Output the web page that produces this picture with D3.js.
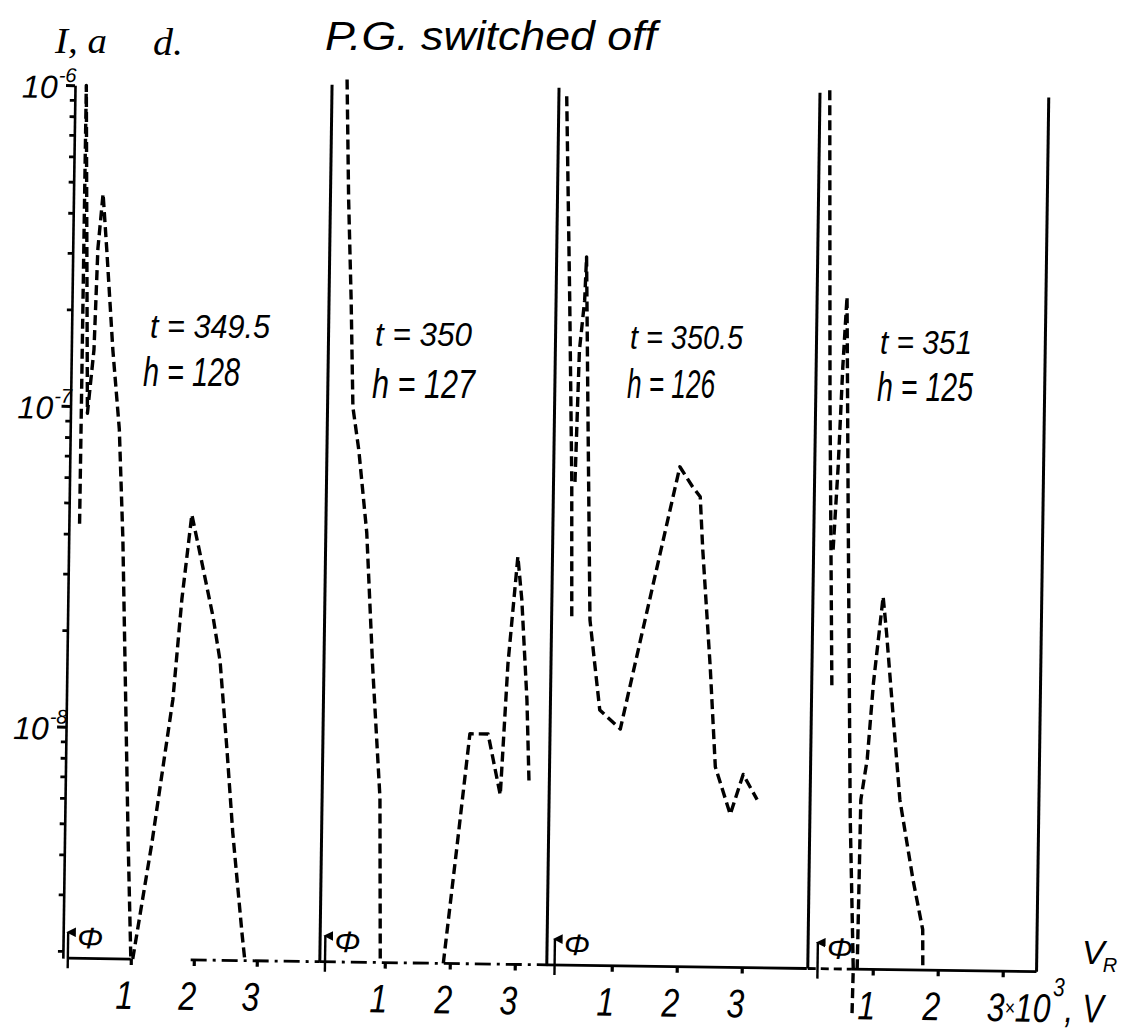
<!DOCTYPE html>
<html><head><meta charset="utf-8">
<script src="https://cdn.jsdelivr.net/npm/d3@7"></script>
<style>
html,body{margin:0;padding:0;background:#fff;}
svg{display:block;}
.hand{font-family:'Liberation Sans','DejaVu Sans',sans-serif;font-style:italic;fill:#000;}
.serif{font-family:'Liberation Serif','DejaVu Serif',serif;font-style:italic;fill:#000;}
</style></head><body>
<svg id="chart" width="1123" height="1033"></svg>
<script>
// ---------------- DATA ----------------
const FLOOR = 1.9e-9;                 // current level drawn on the zero line (A)
const tLabels = ["t = 349.5", "t = 350", "t = 350.5", "t = 351"];
const hLabels = ["h = 128", "h = 127", "h = 126", "h = 125"];
const phiV = [0.0, 0.08, 0.12, 0.15];  // position of the Φ arrow (kV)
const xTickValues = [1, 2, 3];
const xTickLabels = ["1", "2", "3"];
const yMajorTicks = [1e-6, 1e-7, 1e-8];
const yMajorExp = ["-6", "-7", "-8"];
const edgeV = [[], [0], [0], [0, 3.52]];                 // solid vertical lines (kV)
const edgeTop = [[], [1.03e-6], [1.03e-6], [1.02e-6, 1.01e-6]];

// panel 1 (t = 349.5)
const p1a_V = [0.09, 0.10, 0.19, 0.28, 0.32, 0.39, 0.46, 0.58, 0.70, 0.78, 0.93, 1.00];
const p1a_I = [4.3e-8, 1.0e-6, 9.5e-8, 1.5e-7, 3.1e-7, 4.6e-7, 3.1e-7, 1.5e-7, 8.5e-8, 3.9e-8, 4.5e-9, 1.9e-9];
const p1b_V = [1.03, 1.31, 1.61, 1.73, 1.87, 2.01, 2.23, 2.35, 2.48, 2.59, 2.76, 2.81];
const p1b_I = [1.9e-9, 4.4e-9, 1.23e-8, 2.52e-8, 4.64e-8, 3.5e-8, 2.23e-8, 1.63e-8, 8.6e-9, 4.75e-9, 2.3e-9, 1.9e-9];
// panel 2 (t = 350)
const p2a_V = [0.23, 0.28, 0.34, 0.39, 0.49, 0.63, 0.75, 0.89, 0.93];
const p2a_I = [1.07e-6, 4.5e-7, 2.2e-7, 1.02e-7, 7.5e-8, 4.15e-8, 1.58e-8, 6.2e-9, 1.9e-9];
const p2b_V = [1.90, 2.09, 2.26, 2.54, 2.74, 2.83, 2.96, 3.03, 3.13, 3.18];
const p2b_I = [1.9e-9, 4.5e-9, 9.9e-9, 9.9e-9, 6.4e-9, 1.64e-8, 3.55e-8, 2.6e-8, 1.27e-8, 7.0e-9];
// panel 3 (t = 350.5)
const p3a_V = [0.12, 0.21, 0.28, 0.31];
const p3a_I = [9.7e-7, 2.25e-7, 6.2e-8, 2.27e-8];
const p3b_V = [0.33, 0.37, 0.44, 0.46, 0.51, 0.59, 0.76, 1.08, 1.94, 2.14, 2.26, 2.31, 2.45, 2.55, 2.79, 2.98, 3.20];
const p3b_I = [6.1e-8, 1.57e-7, 2.25e-7, 3.07e-7, 1.1e-7, 2.27e-8, 1.19e-8, 1.04e-8, 6.87e-8, 5.96e-8, 5.55e-8, 3.8e-8, 1.64e-8, 8.0e-9, 5.7e-9, 7.6e-9, 6.35e-9];
// panel 4 (t = 351)
const p4a_V = [0.15, 0.22, 0.31];
const p4a_I = [1.04e-6, 1.13e-7, 1.44e-8];
const p4b_V = [0.30, 0.36, 0.41, 0.46, 0.52, 0.62, 0.70, 0.69];
const p4b_I = [3.85e-8, 7.0e-8, 1.43e-7, 2.37e-7, 5.5e-8, 5.7e-9, 1.9e-9, 1.35e-9];
const p4c_V = [0.76, 0.78, 0.87, 0.95, 1.08, 1.14, 1.26, 1.38, 1.60, 1.76, 1.77];
const p4c_I = [1.9e-9, 6.4e-9, 8.6e-9, 1.49e-8, 2.76e-8, 2.13e-8, 1.17e-8, 6.45e-9, 3.63e-9, 2.54e-9, 1.9e-9];

const series = [
  {p: 0, V: p1a_V, I: p1a_I}, {p: 0, V: p1b_V, I: p1b_I},
  {p: 1, V: p2a_V, I: p2a_I}, {p: 1, V: p2b_V, I: p2b_I},
  {p: 2, V: p3a_V, I: p3a_I}, {p: 2, V: p3b_V, I: p3b_I},
  {p: 3, V: p4a_V, I: p4a_I}, {p: 3, V: p4b_V, I: p4b_I}, {p: 3, V: p4c_V, I: p4c_I}
];

// ---------------- LAYOUT ----------------
const W = 1123, H = 1033;
const ROT = 0.8, CX = 560, CY = 520;
const panelOrigin = [74, 326, 553, 814];
const pxPerKV = [63, 65, 65, 65];
const xs = panelOrigin.map((o, i) => d3.scaleLinear().domain([0, 4]).range([o, o + 4 * pxPerKV[i]]));
const y = d3.scaleLog().domain([FLOOR, 1e-6]).range([965, 92]);
const axisX = panelOrigin[0] - 5;
const baselineSegs = [
  {p: 0, a: 0, b: 1, dash: null},
  {p: 0, a: 1.95, b: 4.0, dash: "16,6,3,6"},
  {p: 1, a: 0, b: 3.5, dash: "16,6,3,6"},
  {p: 2, a: 0, b: 4.0, dash: null},
  {p: 3, a: 0, b: 0.68, dash: "8,5"},
  {p: 3, a: 0.68, b: 3.52, dash: null}
];

const svg = d3.select("#chart");
svg.append("rect").attr("width", W).attr("height", H).attr("fill", "#fff");
const defs = svg.append("defs");
defs.append("marker").attr("id", "ah").attr("viewBox", "0 0 10 10").attr("refX", 5).attr("refY", 2)
  .attr("markerWidth", 4).attr("markerHeight", 4).attr("orient", "auto-start-reverse")
  .append("path").attr("d", "M0,10 L5,0 L10,10 Z").attr("fill", "#000");

const g = svg.append("g").attr("transform", `rotate(${ROT} ${CX} ${CY})`);
const base = y(FLOOR);

// zero lines
g.selectAll("line.base").data(baselineSegs).join("line").attr("class", "base")
  .attr("x1", d => xs[d.p](d.a)).attr("x2", d => xs[d.p](d.b))
  .attr("y1", base).attr("y2", base)
  .attr("stroke", "#000").attr("stroke-width", 2.8)
  .attr("stroke-dasharray", d => d.dash);

// solid vertical lines
edgeV.forEach((arr, p) => arr.forEach((v, k) => {
  g.append("line").attr("x1", xs[p](v)).attr("x2", xs[p](v))
    .attr("y1", base).attr("y2", y(edgeTop[p][k]))
    .attr("stroke", "#000").attr("stroke-width", 3);
}));

// y axis
const minor = y.ticks().filter(v => !yMajorTicks.some(m => Math.abs(m - v) / m < 1e-6) && v > FLOOR * 1.02 && v < 1e-6);
const yAxisMinor = d3.axisLeft(y).tickValues(minor).tickFormat("").tickSize(5).tickSizeOuter(0);
const ya = g.append("g").attr("transform", `translate(${axisX},0)`).call(yAxisMinor);
ya.select(".domain").attr("stroke-width", 2.6);
ya.selectAll(".tick line").attr("stroke-width", 2.8);
const yAxisMajor = d3.axisLeft(y).tickValues(yMajorTicks).tickFormat("").tickSize(9).tickSizeOuter(0);
const yb = g.append("g").attr("transform", `translate(${axisX},0)`).call(yAxisMajor);
yb.select(".domain").remove();
yb.selectAll(".tick line").attr("stroke-width", 3);
const ylab = g.selectAll("text.ylab").data(yMajorTicks).join("text").attr("class", "ylab hand")
  .attr("x", axisX - 53).attr("y", d => y(d) + 13);
ylab.append("tspan").attr("font-size", 32).text("10");
ylab.append("tspan").attr("font-size", 20).attr("dx", 1).attr("dy", -16).text((d, i) => yMajorExp[i]);

// x axes (one per panel)
xs.forEach((sc, p) => {
  const ax = d3.axisBottom(sc).tickValues(xTickValues).tickSize(6).tickSizeOuter(0)
    .tickFormat((d, j) => xTickLabels[j]);
  const gx = g.append("g").attr("transform", `translate(0,${base})`).call(ax);
  gx.select(".domain").remove();
  gx.selectAll(".tick line").attr("stroke-width", 3.2);
  gx.selectAll(".tick text").attr("class", "hand").attr("font-size", 40)
    .attr("transform", "scale(0.8,1)")
    .attr("y", 50).attr("dy", 0).attr("x", -8).attr("fill", "#000");
  if (p === 3) {
    const t = gx.selectAll(".tick text").filter(d => d === 3);
    t.text(null).attr("text-anchor", "start").attr("x", -20);
    t.append("tspan").text("3");
    t.append("tspan").attr("font-size", 22).attr("dy", -6).text("×");
    t.append("tspan").attr("dy", 6).text("10");
    t.append("tspan").attr("font-size", 26).attr("dy", -26).attr("dx", 3).text("3");
    t.append("tspan").attr("dy", 26).attr("dx", 0).text(", V");
  }
});

// Φ arrows and labels
phiV.forEach((v, p) => {
  const x = xs[p](v);
  g.append("line").attr("x1", x).attr("x2", x).attr("y1", base + 10).attr("y2", base - 26)
    .attr("stroke", "#000").attr("stroke-width", 2.4).attr("marker-end", "url(#ah)");
  g.append("text").attr("class", "hand").attr("font-size", 30)
    .attr("x", x + 9).attr("y", base - 10)
    .attr("textLength", 26).attr("lengthAdjust", "spacingAndGlyphs").text("Φ");
});

// curves
const line = d3.line().x(d => d.x).y(d => d.y);
series.forEach(s => {
  const pts = s.V.map((v, k) => ({x: xs[s.p](v), y: y(s.I[k])}));
  g.append("path").attr("d", line(pts)).attr("fill", "none")
    .attr("stroke", "#000").attr("stroke-width", 3.4)
    .attr("stroke-dasharray", "10,5").attr("stroke-linejoin", "round");
});

// ---------------- ANNOTATIONS ----------------
const ann = svg.append("g");
ann.append("text").attr("class", "serif").attr("x", 55).attr("y", 53).attr("font-size", 36)
  .attr("textLength", 52).attr("lengthAdjust", "spacingAndGlyphs").text("I, a");
ann.append("text").attr("class", "serif").attr("x", 153).attr("y", 55).attr("font-size", 38)
  .attr("textLength", 30).attr("lengthAdjust", "spacingAndGlyphs").text("d.");
ann.append("text").attr("class", "hand").attr("x", 325).attr("y", 50).attr("font-size", 40)
  .attr("textLength", 332).attr("lengthAdjust", "spacingAndGlyphs").text("P.G. switched  off");
const tPos = [[150, 338, 120], [375, 346, 97], [630, 349, 113], [880, 354, 92]];
const hPos = [[143, 386, 97], [372, 398, 103], [627, 398, 88], [877, 401, 96]];
tLabels.forEach((s, i) => ann.append("text").attr("class", "hand").attr("font-size", 33)
  .attr("x", tPos[i][0]).attr("y", tPos[i][1]).attr("textLength", tPos[i][2])
  .attr("lengthAdjust", "spacingAndGlyphs").text(s));
hLabels.forEach((s, i) => ann.append("text").attr("class", "hand").attr("font-size", 40)
  .attr("x", hPos[i][0]).attr("y", hPos[i][1]).attr("textLength", hPos[i][2])
  .attr("lengthAdjust", "spacingAndGlyphs").text(s));
const vr = ann.append("text").attr("class", "hand").attr("x", 1082).attr("y", 964).attr("font-size", 34);
vr.append("tspan").text("V");
vr.append("tspan").attr("font-size", 20).attr("dx", -2).attr("dy", 8).text("R");
</script>
</body></html>
